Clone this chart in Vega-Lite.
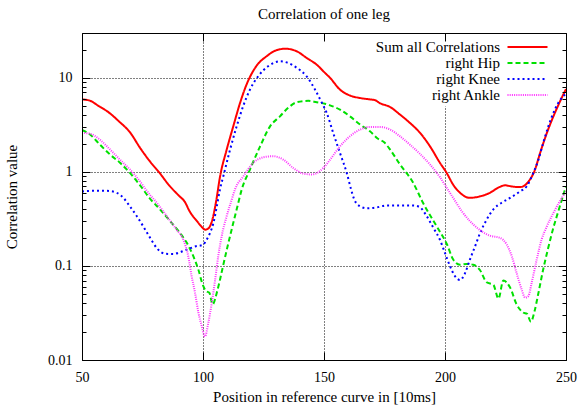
{
  "$schema": "https://vega.github.io/schema/vega-lite/v6.json",
  "width": 484,
  "height": 327,
  "autosize": {"type": "none"},
  "padding": {"left": 82, "top": 33, "right": 13, "bottom": 49},
  "background": "white",
  "title": {"text": "Correlation of one leg", "font": "Liberation Serif", "fontSize": 15, "fontWeight": "normal", "color": "black", "frame": "group", "anchor": "middle", "baseline": "alphabetic", "offset": -1.5},
  "config": {
    "view": {"stroke": null},
    "axis": {
      "labelFont": "Liberation Serif", "labelFontSize": 14, "labelColor": "black",
      "titleFont": "Liberation Serif", "titleFontSize": 15, "titleFontWeight": "normal", "titleColor": "black",
      "tickColor": "black", "tickWidth": 1, "domainColor": "black", "domainWidth": 1,
      "gridColor": "black", "gridDash": [1, 2], "gridWidth": 1, "gridOpacity": 1
    }
  },
  "data": {"values": [
    {"series":"Sum all Correlations","x":50,"v":5.9},{"series":"Sum all Correlations","x":53,"v":5.75},{"series":"Sum all Correlations","x":57,"v":5.0},{"series":"Sum all Correlations","x":61,"v":4.3},{"series":"Sum all Correlations","x":65,"v":3.5},{"series":"Sum all Correlations","x":70,"v":2.6},{"series":"Sum all Correlations","x":74,"v":1.8},{"series":"Sum all Correlations","x":78,"v":1.3},{"series":"Sum all Correlations","x":82,"v":0.98},{"series":"Sum all Correlations","x":86,"v":0.72},{"series":"Sum all Correlations","x":90,"v":0.56},{"series":"Sum all Correlations","x":92.5,"v":0.48},{"series":"Sum all Correlations","x":94.5,"v":0.38},{"series":"Sum all Correlations","x":97.5,"v":0.30},{"series":"Sum all Correlations","x":99.5,"v":0.26},{"series":"Sum all Correlations","x":101,"v":0.243},{"series":"Sum all Correlations","x":102.5,"v":0.255},{"series":"Sum all Correlations","x":104,"v":0.32},{"series":"Sum all Correlations","x":105.5,"v":0.5},{"series":"Sum all Correlations","x":107,"v":0.88},{"series":"Sum all Correlations","x":109.8,"v":1.73},{"series":"Sum all Correlations","x":112.5,"v":3.05},{"series":"Sum all Correlations","x":115.3,"v":5.4},{"series":"Sum all Correlations","x":118,"v":8.5},{"series":"Sum all Correlations","x":122,"v":13.3},{"series":"Sum all Correlations","x":126.3,"v":17.0},{"series":"Sum all Correlations","x":130.4,"v":19.7},{"series":"Sum all Correlations","x":134,"v":20.4},{"series":"Sum all Correlations","x":138.7,"v":19.2},{"series":"Sum all Correlations","x":142.8,"v":16.3},{"series":"Sum all Correlations","x":147,"v":13.8},{"series":"Sum all Correlations","x":150.4,"v":11.3},{"series":"Sum all Correlations","x":152.5,"v":10.0},{"series":"Sum all Correlations","x":156.6,"v":7.5},{"series":"Sum all Correlations","x":160.7,"v":6.5},{"series":"Sum all Correlations","x":164.9,"v":6.1},{"series":"Sum all Correlations","x":169,"v":5.9},{"series":"Sum all Correlations","x":171,"v":5.8},{"series":"Sum all Correlations","x":173,"v":5.4},{"series":"Sum all Correlations","x":177.3,"v":4.9},{"series":"Sum all Correlations","x":181.4,"v":4.07},{"series":"Sum all Correlations","x":185.5,"v":3.32},{"series":"Sum all Correlations","x":189.7,"v":2.6},{"series":"Sum all Correlations","x":193.8,"v":1.87},{"series":"Sum all Correlations","x":197.9,"v":1.25},{"series":"Sum all Correlations","x":200.7,"v":0.975},{"series":"Sum all Correlations","x":203.4,"v":0.73},{"series":"Sum all Correlations","x":206.2,"v":0.6},{"series":"Sum all Correlations","x":210.3,"v":0.53},{"series":"Sum all Correlations","x":214.5,"v":0.55},{"series":"Sum all Correlations","x":218.6,"v":0.6},{"series":"Sum all Correlations","x":222,"v":0.68},{"series":"Sum all Correlations","x":224.8,"v":0.72},{"series":"Sum all Correlations","x":227.6,"v":0.70},{"series":"Sum all Correlations","x":231,"v":0.69},{"series":"Sum all Correlations","x":234.5,"v":0.79},{"series":"Sum all Correlations","x":237.2,"v":1.06},{"series":"Sum all Correlations","x":239.3,"v":1.59},{"series":"Sum all Correlations","x":242.1,"v":2.6},{"series":"Sum all Correlations","x":244.8,"v":3.9},{"series":"Sum all Correlations","x":247.5,"v":5.6},{"series":"Sum all Correlations","x":250,"v":7.6},
    {"series":"right Hip","x":50,"v":2.8},{"series":"right Hip","x":53.3,"v":2.5},{"series":"right Hip","x":57.4,"v":1.95},{"series":"right Hip","x":61.6,"v":1.53},{"series":"right Hip","x":65.7,"v":1.25},{"series":"right Hip","x":69.8,"v":0.975},{"series":"right Hip","x":74,"v":0.72},{"series":"right Hip","x":78.1,"v":0.52},{"series":"right Hip","x":82.2,"v":0.40},{"series":"right Hip","x":86.4,"v":0.30},{"series":"right Hip","x":90.5,"v":0.224},{"series":"right Hip","x":93.3,"v":0.176},{"series":"right Hip","x":96,"v":0.127},{"series":"right Hip","x":98.1,"v":0.091},{"series":"right Hip","x":100,"v":0.062},{"series":"right Hip","x":101.3,"v":0.054},{"series":"right Hip","x":102.6,"v":0.052},{"series":"right Hip","x":104,"v":0.039},{"series":"right Hip","x":105.7,"v":0.052},{"series":"right Hip","x":107,"v":0.071},{"series":"right Hip","x":108.4,"v":0.103},{"series":"right Hip","x":110.5,"v":0.176},{"series":"right Hip","x":112.5,"v":0.286},{"series":"right Hip","x":114.6,"v":0.47},{"series":"right Hip","x":116,"v":0.65},{"series":"right Hip","x":119.4,"v":1.06},{"series":"right Hip","x":123.6,"v":1.87},{"series":"right Hip","x":127.7,"v":3.05},{"series":"right Hip","x":131.8,"v":3.9},{"series":"right Hip","x":135.2,"v":4.8},{"series":"right Hip","x":138.7,"v":5.5},{"series":"right Hip","x":143.5,"v":5.7},{"series":"right Hip","x":147,"v":5.5},{"series":"right Hip","x":150.4,"v":5.3},{"series":"right Hip","x":152.5,"v":5.1},{"series":"right Hip","x":156.6,"v":4.6},{"series":"right Hip","x":160.7,"v":3.9},{"series":"right Hip","x":164.9,"v":3.19},{"series":"right Hip","x":169,"v":2.7},{"series":"right Hip","x":172.3,"v":2.25},{"series":"right Hip","x":175,"v":2.05},{"series":"right Hip","x":177.3,"v":1.73},{"series":"right Hip","x":181.4,"v":1.2},{"series":"right Hip","x":186.8,"v":0.77},{"series":"right Hip","x":190.9,"v":0.47},{"series":"right Hip","x":196.7,"v":0.26},{"series":"right Hip","x":200.8,"v":0.17},{"series":"right Hip","x":203.4,"v":0.117},{"series":"right Hip","x":206.2,"v":0.103},{"series":"right Hip","x":208.9,"v":0.105},{"series":"right Hip","x":211.7,"v":0.103},{"series":"right Hip","x":214.5,"v":0.09},{"series":"right Hip","x":217.2,"v":0.067},{"series":"right Hip","x":220,"v":0.063},{"series":"right Hip","x":222.1,"v":0.045},{"series":"right Hip","x":224.1,"v":0.07},{"series":"right Hip","x":226.9,"v":0.059},{"series":"right Hip","x":229.6,"v":0.039},{"series":"right Hip","x":232.3,"v":0.032},{"series":"right Hip","x":233.9,"v":0.031},{"series":"right Hip","x":235.5,"v":0.0255},{"series":"right Hip","x":237,"v":0.033},{"series":"right Hip","x":238.5,"v":0.05},{"series":"right Hip","x":240.5,"v":0.09},{"series":"right Hip","x":242.5,"v":0.15},{"series":"right Hip","x":244.5,"v":0.24},{"series":"right Hip","x":246.8,"v":0.38},{"series":"right Hip","x":250,"v":0.7},
    {"series":"right Knee","x":50,"v":0.62},{"series":"right Knee","x":54.7,"v":0.63},{"series":"right Knee","x":60.2,"v":0.63},{"series":"right Knee","x":64.3,"v":0.6},{"series":"right Knee","x":67.1,"v":0.53},{"series":"right Knee","x":69.8,"v":0.43},{"series":"right Knee","x":72.6,"v":0.34},{"series":"right Knee","x":75.3,"v":0.264},{"series":"right Knee","x":78.1,"v":0.2},{"series":"right Knee","x":80.9,"v":0.155},{"series":"right Knee","x":84.3,"v":0.135},{"series":"right Knee","x":87.8,"v":0.134},{"series":"right Knee","x":90.5,"v":0.14},{"series":"right Knee","x":93.3,"v":0.149},{"series":"right Knee","x":96.7,"v":0.161},{"series":"right Knee","x":100,"v":0.168},{"series":"right Knee","x":101.5,"v":0.19},{"series":"right Knee","x":102.9,"v":0.224},{"series":"right Knee","x":104.3,"v":0.286},{"series":"right Knee","x":105.7,"v":0.43},{"series":"right Knee","x":107,"v":0.65},{"series":"right Knee","x":108.4,"v":0.9},{"series":"right Knee","x":111.2,"v":1.73},{"series":"right Knee","x":113.9,"v":3.05},{"series":"right Knee","x":116.6,"v":5.0},{"series":"right Knee","x":119.4,"v":7.5},{"series":"right Knee","x":122.8,"v":10.4},{"series":"right Knee","x":126.9,"v":13.3},{"series":"right Knee","x":131.8,"v":15.0},{"series":"right Knee","x":135.2,"v":14.4},{"series":"right Knee","x":138.7,"v":12.8},{"series":"right Knee","x":142.8,"v":10.4},{"series":"right Knee","x":146.3,"v":7.5},{"series":"right Knee","x":149,"v":5.5},{"series":"right Knee","x":151.1,"v":4.25},{"series":"right Knee","x":153.8,"v":2.6},{"series":"right Knee","x":156.6,"v":1.59},{"series":"right Knee","x":159.4,"v":0.975},{"series":"right Knee","x":161.2,"v":0.65},{"series":"right Knee","x":162.5,"v":0.51},{"series":"right Knee","x":164.9,"v":0.43},{"series":"right Knee","x":167.6,"v":0.41},{"series":"right Knee","x":171.8,"v":0.42},{"series":"right Knee","x":175.9,"v":0.44},{"series":"right Knee","x":181.4,"v":0.44},{"series":"right Knee","x":186.9,"v":0.44},{"series":"right Knee","x":189.7,"v":0.42},{"series":"right Knee","x":192.4,"v":0.34},{"series":"right Knee","x":195.2,"v":0.254},{"series":"right Knee","x":197.9,"v":0.19},{"series":"right Knee","x":200,"v":0.137},{"series":"right Knee","x":202.1,"v":0.099},{"series":"right Knee","x":204.1,"v":0.078},{"series":"right Knee","x":206.2,"v":0.071},{"series":"right Knee","x":208.3,"v":0.084},{"series":"right Knee","x":210.3,"v":0.117},{"series":"right Knee","x":212.4,"v":0.161},{"series":"right Knee","x":214.5,"v":0.224},{"series":"right Knee","x":217.2,"v":0.31},{"series":"right Knee","x":220,"v":0.4},{"series":"right Knee","x":223.4,"v":0.47},{"series":"right Knee","x":226.9,"v":0.53},{"series":"right Knee","x":231,"v":0.62},{"series":"right Knee","x":233.7,"v":0.7},{"series":"right Knee","x":236.5,"v":0.975},{"series":"right Knee","x":238.6,"v":1.35},{"series":"right Knee","x":240.6,"v":2.04},{"series":"right Knee","x":242.7,"v":3.05},{"series":"right Knee","x":244.8,"v":4.25},{"series":"right Knee","x":246.8,"v":5.42},{"series":"right Knee","x":250,"v":6.8},
    {"series":"right Ankle","x":50,"v":2.6},{"series":"right Ankle","x":53.3,"v":2.55},{"series":"right Ankle","x":57.4,"v":2.2},{"series":"right Ankle","x":61.6,"v":1.73},{"series":"right Ankle","x":65.7,"v":1.35},{"series":"right Ankle","x":69.8,"v":1.06},{"series":"right Ankle","x":74,"v":0.79},{"series":"right Ankle","x":76,"v":0.67},{"series":"right Ankle","x":78.1,"v":0.57},{"series":"right Ankle","x":80.9,"v":0.47},{"series":"right Ankle","x":85,"v":0.34},{"series":"right Ankle","x":89.1,"v":0.243},{"series":"right Ankle","x":91.9,"v":0.19},{"series":"right Ankle","x":93.9,"v":0.127},{"series":"right Ankle","x":95.3,"v":0.078},{"series":"right Ankle","x":96.7,"v":0.052},{"series":"right Ankle","x":98.1,"v":0.032},{"series":"right Ankle","x":99.5,"v":0.0228},{"series":"right Ankle","x":100.8,"v":0.0178},{"series":"right Ankle","x":102.2,"v":0.0248},{"series":"right Ankle","x":103.6,"v":0.04},{"series":"right Ankle","x":105,"v":0.071},{"series":"right Ankle","x":106.3,"v":0.127},{"series":"right Ankle","x":107.7,"v":0.206},{"series":"right Ankle","x":109.8,"v":0.34},{"series":"right Ankle","x":111.9,"v":0.51},{"series":"right Ankle","x":113.2,"v":0.65},{"series":"right Ankle","x":116.7,"v":0.9},{"series":"right Ankle","x":120.8,"v":1.25},{"series":"right Ankle","x":124.9,"v":1.43},{"series":"right Ankle","x":129,"v":1.47},{"series":"right Ankle","x":133.2,"v":1.35},{"series":"right Ankle","x":137.3,"v":1.1},{"series":"right Ankle","x":141.4,"v":0.96},{"series":"right Ankle","x":145,"v":0.94},{"series":"right Ankle","x":149.7,"v":1.1},{"series":"right Ankle","x":152.5,"v":1.35},{"series":"right Ankle","x":156.6,"v":1.87},{"series":"right Ankle","x":160.7,"v":2.39},{"series":"right Ankle","x":164.9,"v":2.82},{"series":"right Ankle","x":169,"v":3.01},{"series":"right Ankle","x":173.1,"v":3.01},{"series":"right Ankle","x":177.3,"v":2.82},{"series":"right Ankle","x":181.4,"v":2.39},{"series":"right Ankle","x":185.5,"v":1.95},{"series":"right Ankle","x":189.7,"v":1.55},{"series":"right Ankle","x":193.8,"v":1.2},{"series":"right Ankle","x":197.9,"v":0.88},{"series":"right Ankle","x":201,"v":0.66},{"series":"right Ankle","x":204,"v":0.5},{"series":"right Ankle","x":207,"v":0.38},{"series":"right Ankle","x":210.3,"v":0.3},{"series":"right Ankle","x":214.5,"v":0.24},{"series":"right Ankle","x":218.6,"v":0.21},{"series":"right Ankle","x":222.7,"v":0.199},{"series":"right Ankle","x":225.5,"v":0.169},{"series":"right Ankle","x":227.6,"v":0.127},{"series":"right Ankle","x":229.6,"v":0.084},{"series":"right Ankle","x":231.7,"v":0.056},{"series":"right Ankle","x":233.1,"v":0.046},{"series":"right Ankle","x":234.5,"v":0.048},{"series":"right Ankle","x":235.8,"v":0.066},{"series":"right Ankle","x":237.9,"v":0.117},{"series":"right Ankle","x":239.9,"v":0.19},{"series":"right Ankle","x":242.1,"v":0.264},{"series":"right Ankle","x":244.8,"v":0.366},{"series":"right Ankle","x":247.5,"v":0.49},{"series":"right Ankle","x":250,"v":0.62}
  ]},
  "layer": [
    {
      "data": {"values": [{}]},
      "mark": {"type": "rect", "fill": "white"},
      "encoding": {
        "x": {"datum": 147.5, "type": "quantitative", "scale": {"domain": [50, 250], "nice": false, "zero": false}, "axis": null},
        "x2": {"datum": 250},
        "y": {"datum": 30, "type": "quantitative", "scale": {"type": "log", "domain": [0.01, 30], "nice": false}, "axis": null},
        "y2": {"datum": 4.95}
      }
    },
    {
      "mark": {"type": "line", "strokeWidth": 2, "interpolate": "monotone", "clip": true},
      "encoding": {
        "x": {"field": "x", "type": "quantitative", "scale": {"domain": [50, 250], "nice": false, "zero": false},
          "axis": {"orient": "bottom", "values": [50, 100, 150, 200, 250], "ticks": false, "domain": false, "grid": true, "labelPadding": 10, "labelFlush": false, "labelOverlap": false, "title": "Position in reference curve in [10ms]", "titlePadding": 5, "zindex": 0}},
        "y": {"field": "v", "type": "quantitative", "scale": {"type": "log", "domain": [0.01, 30], "nice": false},
          "axis": {"orient": "left", "values": [0.01, 0.1, 1, 10], "format": "~g", "ticks": false, "domain": false, "grid": true, "labelPadding": 10, "labelFlush": false, "labelOverlap": false, "title": "Correlation value", "titlePadding": 28, "zindex": 0}},
        "color": {"field": "series", "type": "nominal",
          "scale": {"domain": ["Sum all Correlations", "right Hip", "right Knee", "right Ankle"], "range": ["#ff0000", "#00e000", "#0000ff", "#ff33ff"]},
          "legend": {"orient": "none", "legendX": 438, "legendY": 6.5, "direction": "vertical", "title": null, "symbolType": "M-4,0H4", "symbolSize": 100, "symbolStrokeWidth": 2, "labelAlign": "right", "labelOffset": -35, "labelFont": "Liberation Serif", "labelFontSize": 15, "labelColor": "black", "labelLimit": 300, "rowPadding": -1.5, "padding": 0}},
        "strokeDash": {"field": "series", "type": "nominal",
          "scale": {"domain": ["Sum all Correlations", "right Hip", "right Knee", "right Ankle"], "range": [[1, 0], [5, 3], [2, 3], [1, 1.2]]},
          "legend": {"orient": "none", "legendX": 438, "legendY": 6.5, "direction": "vertical", "title": null, "symbolType": "M-4,0H4", "symbolSize": 100, "symbolStrokeWidth": 2, "labelAlign": "right", "labelOffset": -35, "labelFont": "Liberation Serif", "labelFontSize": 15, "labelColor": "black", "labelLimit": 300, "rowPadding": -1.5, "padding": 0}}
      }
    },
    {
      "mark": {"type": "point", "opacity": 0},
      "encoding": {
        "x": {"field": "x", "type": "quantitative", "scale": {"domain": [50, 250], "nice": false, "zero": false},
          "axis": {"orient": "bottom", "values": [50, 100, 150, 200, 250], "labels": false, "grid": false, "ticks": true, "tickSize": -8, "domain": true, "title": null, "zindex": 1}},
        "y": {"field": "v", "type": "quantitative", "scale": {"type": "log", "domain": [0.01, 30], "nice": false},
          "axis": {"orient": "left", "values": [0.01, 0.1, 1, 10], "labels": false, "grid": false, "ticks": true, "tickSize": -8, "domain": true, "title": null, "zindex": 1}}
      }
    },
    {
      "mark": {"type": "point", "opacity": 0},
      "encoding": {
        "x": {"field": "x", "type": "quantitative", "scale": {"domain": [50, 250], "nice": false, "zero": false},
          "axis": {"orient": "top", "values": [50, 100, 150, 200, 250], "labels": false, "grid": false, "ticks": true, "tickSize": -8, "domain": true, "title": null, "zindex": 1}},
        "y": {"field": "v", "type": "quantitative", "scale": {"type": "log", "domain": [0.01, 30], "nice": false},
          "axis": {"orient": "right", "values": [0.01, 0.1, 1, 10], "labels": false, "grid": false, "ticks": true, "tickSize": -8, "domain": true, "title": null, "zindex": 1}}
      }
    },
    {
      "mark": {"type": "point", "opacity": 0},
      "encoding": {
        "x": {"field": "x", "type": "quantitative", "scale": {"domain": [50, 250], "nice": false, "zero": false}, "axis": null},
        "y": {"field": "v", "type": "quantitative", "scale": {"type": "log", "domain": [0.01, 30], "nice": false},
          "axis": {"orient": "left", "values": [0.02, 0.03, 0.04, 0.05, 0.06, 0.07, 0.08, 0.09, 0.2, 0.3, 0.4, 0.5, 0.6, 0.7, 0.8, 0.9, 2, 3, 4, 5, 6, 7, 8, 9, 20], "labels": false, "grid": false, "ticks": true, "tickSize": -4, "domain": false, "title": null, "zindex": 1}}
      }
    },
    {
      "mark": {"type": "point", "opacity": 0},
      "encoding": {
        "x": {"field": "x", "type": "quantitative", "scale": {"domain": [50, 250], "nice": false, "zero": false}, "axis": null},
        "y": {"field": "v", "type": "quantitative", "scale": {"type": "log", "domain": [0.01, 30], "nice": false},
          "axis": {"orient": "right", "values": [0.02, 0.03, 0.04, 0.05, 0.06, 0.07, 0.08, 0.09, 0.2, 0.3, 0.4, 0.5, 0.6, 0.7, 0.8, 0.9, 2, 3, 4, 5, 6, 7, 8, 9, 20], "labels": false, "grid": false, "ticks": true, "tickSize": -4, "domain": false, "title": null, "zindex": 1}}
      }
    }
  ],
  "resolve": {"axis": {"x": "independent", "y": "independent"}}
}
